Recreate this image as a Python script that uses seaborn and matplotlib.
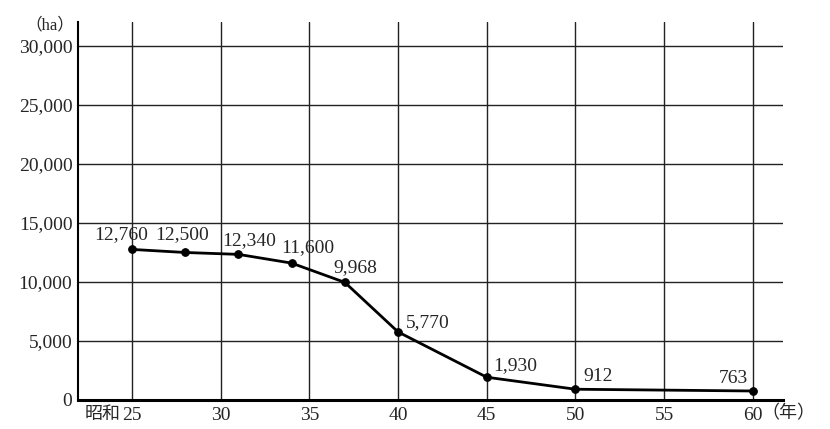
import matplotlib
matplotlib.use("Agg")
import matplotlib.pyplot as plt
import seaborn as sns
import pandas as pd

# ===================== Daten =====================
years = [25, 28, 31, 34, 37, 40, 45, 50, 60]          # 昭和
area_ha = [12760, 12500, 12340, 11600, 9968, 5770, 1930, 912, 763]
xticks = [25, 30, 35, 40, 45, 50, 55, 60]
yticks = [0, 5000, 10000, 15000, 20000, 25000, 30000]

# label offsets (pixels) and alignment per point
label_pos = [(-11, 10, 'center'), (-3, 13, 'center'), (11, 9, 'center'),
             (16, 11, 'center'), (10, 10, 'center'), (8, 5, 'left'),
             (6, 7, 'left'), (8, 8, 'left'), (-5, 8, 'right')]

df = pd.DataFrame({'year': years, 'area': area_ha})

sns.set_style("white")
plt.rcParams['font.family'] = ['Liberation Serif', 'Noto Sans CJK JP', 'DejaVu Sans']

fig = plt.figure(figsize=(8.3, 4.29), dpi=100)
ax = fig.add_axes([78/830, 1 - 400/429, (783 - 78)/830, (400 - 22)/429])

# Gitter
for yv in yticks[1:]:
    ax.axhline(yv, color='#222222', lw=1.0, zorder=1)
for xv in xticks:
    ax.axvline(xv, color='#222222', lw=1.0, zorder=1)

sns.lineplot(data=df, x='year', y='area', ax=ax, color='black', lw=2.0,
             marker='o', markersize=5.5, markeredgecolor='black', zorder=3)

for x, y, (dx, dy, ha) in zip(years, area_ha, label_pos):
    ax.annotate(f"{y:,}", xy=(x, y), xytext=(dx, dy), textcoords='offset pixels',
                ha=ha, va='baseline', fontsize=14)

ax.set_xlim(21.96, 61.7)
ax.set_ylim(0, 32030)
ax.set_xticks(xticks)
ax.set_xticklabels([str(v) for v in xticks], fontsize=14)
ax.set_yticks(yticks)
ax.set_yticklabels([f"{v:,}" for v in yticks], fontsize=14)
ax.tick_params(axis='both', length=0)
ax.tick_params(axis='x', pad=5)
ax.tick_params(axis='y', pad=4)
ax.set_xlabel("")
ax.set_ylabel("")

for s in ['top', 'right']:
    ax.spines[s].set_visible(False)
ax.spines['left'].set_linewidth(1.5)
ax.spines['left'].set_color('black')
ax.spines['bottom'].set_linewidth(2.2)
ax.spines['bottom'].set_color('black')

# Zusatzbeschriftungen
ax.annotate("昭和", xy=(25, 0), xycoords=('data', 'axes fraction'),
            xytext=(-11, -14), textcoords='offset pixels',
            ha='right', va='center', fontsize=13)
ax.annotate("（年）", xy=(60, 0), xycoords=('data', 'axes fraction'),
            xytext=(9, -14), textcoords='offset pixels',
            ha='left', va='center', fontsize=13)
fig.text(74/830, 1 - 25/429, "（ha）", ha='right', va='center', fontsize=12)

fig.savefig("out.png", dpi=100, facecolor='white')
